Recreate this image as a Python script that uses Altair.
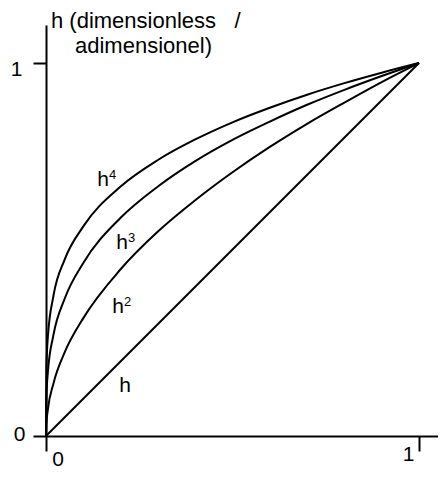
import altair as alt
import pandas as pd

# values
xs = [0, 0.001, 0.005, 0.02, 0.05, 0.1, 0.2, 0.3, 0.4, 0.5, 0.6, 0.7, 0.8, 0.9, 1.0]
h2 = [0, 0.032, 0.071, 0.141, 0.224, 0.316, 0.447, 0.548, 0.632, 0.707, 0.775, 0.837, 0.894, 0.949, 1.0]
h3 = [0, 0.100, 0.171, 0.271, 0.368, 0.464, 0.585, 0.669, 0.737, 0.794, 0.843, 0.888, 0.928, 0.965, 1.0]
h4 = [0, 0.178, 0.266, 0.376, 0.473, 0.562, 0.669, 0.740, 0.795, 0.841, 0.880, 0.915, 0.946, 0.974, 1.0]
h1_x = [0, 1]
h1_y = [0, 1]

label_names = ["h", "h2", "h3", "h4"]
label_base = ["h", "h", "h", "h"]
label_sup = ["", "2", "3", "4"]
label_x = [0.212, 0.193, 0.204, 0.153]
label_y = [0.118, 0.329, 0.501, 0.670]

tick_values = [0, 1]
y_title_line1 = "h (dimensionless \u00a0\u00a0/"
y_title_line2 = "adimensionel)"

rows = []
for x, y in zip(h1_x, h1_y):
    rows.append({"series": "h", "x": x, "y": y})
for name, ys in (("h2", h2), ("h3", h3), ("h4", h4)):
    for x, y in zip(xs, ys):
        rows.append({"series": name, "x": x, "y": y})
df = pd.DataFrame(rows)

labels = pd.DataFrame({"series": label_names, "base": label_base, "sup": label_sup,
                       "x": label_x, "y": label_y})

FONT = "Liberation Sans"
xscale = alt.Scale(domain=[0, 392 / 373], nice=False, zero=False)
yscale = alt.Scale(domain=[0, 411 / 373], nice=False, zero=False)

xaxis = alt.Axis(values=tick_values, format="d", tickSize=15, tickWidth=2, domainWidth=2,
                 domainColor="black", tickColor="black", grid=False, title=None,
                 labelFont=FONT, labelFontSize=21, labelColor="black",
                 labelBaseline="alphabetic", labelFlush=False, labelOverlap=False,
                 labelOffset={"condition": {"test": "datum.value == 0", "value": 11.5}, "value": -11},
                 labelPadding={"condition": {"test": "datum.value == 0", "value": 14}, "value": 9})
yaxis = alt.Axis(values=tick_values, format="d", tickSize=13, tickWidth=2, domainWidth=2,
                 domainColor="black", tickColor="black", grid=False, title=None,
                 labelFont=FONT, labelFontSize=21, labelColor="black",
                 labelAlign="right", labelBaseline="alphabetic", labelFlush=False,
                 labelOverlap=False,
                 labelOffset={"condition": {"test": "datum.value == 0", "value": 4}, "value": 12},
                 labelPadding={"condition": {"test": "datum.value == 0", "value": 8}, "value": 11})

X = alt.X("x:Q", scale=xscale, axis=xaxis)
Y = alt.Y("y:Q", scale=yscale, axis=yaxis)

lines = alt.Chart(df).mark_line(color="black", strokeWidth=2, interpolate="monotone").encode(
    x=X, y=Y, detail="series:N", order="x:Q",
)

base_txt = alt.Chart(labels).mark_text(font=FONT, fontSize=21, color="black",
                                       align="center", baseline="alphabetic").encode(
    x=X, y=Y, text="base:N",
)
sup_txt = alt.Chart(labels).mark_text(font=FONT, fontSize=13, color="black",
                                      align="left", baseline="alphabetic", dx=6, dy=-7).encode(
    x=X, y=Y, text="sup:N",
)

title1 = alt.Chart(pd.DataFrame({"t": [y_title_line1]})).mark_text(
    font=FONT, fontSize=22, color="black", align="left", baseline="alphabetic"
).encode(text="t:N", x=alt.value(5), y=alt.value(3))
title2 = alt.Chart(pd.DataFrame({"t": [y_title_line2]})).mark_text(
    font=FONT, fontSize=22, color="black", align="left", baseline="alphabetic"
).encode(text="t:N", x=alt.value(29), y=alt.value(28))

chart = alt.layer(lines, base_txt, sup_txt, title1, title2).properties(
    width=392, height=411,
    autosize=alt.AutoSizeParams(type="none"),
    padding={"left": 38, "top": 17, "right": 0, "bottom": 33},
    background="white",
).configure_view(stroke=None)

chart.save("out.html", embed_options={"renderer": "svg", "actions": False})
